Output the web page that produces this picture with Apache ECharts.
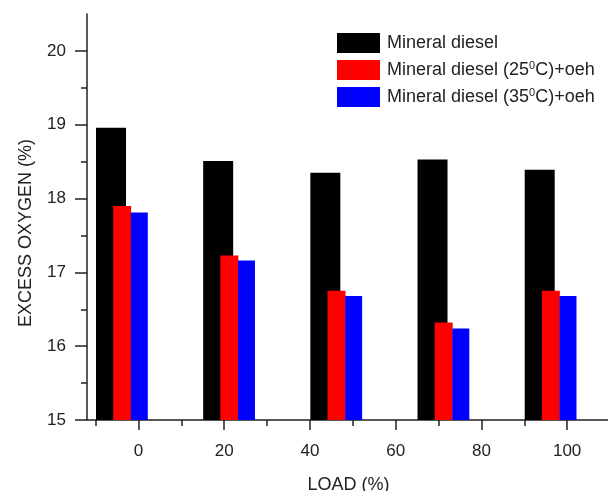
<!DOCTYPE html>
<html>
<head>
<meta charset="utf-8">
<script src="https://cdn.jsdelivr.net/npm/echarts@6/dist/echarts.min.js"></script>
<style>
  html, body { margin: 0; padding: 0; background: #fff; }
  #chart { width: 608px; height: 491px; }
</style>
</head>
<body>
<div id="chart"></div>
<script>
// x positions of each bar on the LOAD axis
const blackLoad = [-6.4, 18.6, 43.6, 68.6, 93.6]
const redLoad = [-3.8, 21.2, 46.2, 71.2, 96.2]
const blueLoad = [0.2, 25.2, 50.2, 75.2, 100.2]

// excess oxygen (%)
const mineralDiesel = [18.96, 18.51, 18.35, 18.53, 18.39]
const diesel25 = [17.90, 17.23, 16.75, 16.32, 16.75]
const diesel35 = [17.81, 17.16, 16.68, 16.24, 16.68]

const seriesNames = ['Mineral diesel', 'Mineral diesel (25°C)+oeh', 'Mineral diesel (35°C)+oeh']

const xMajorTicks = [0, 20, 40, 60, 80, 100]
const xMinorTicks = [-10, 10, 30, 50, 70, 90]
const yMajorTicks = [15, 16, 17, 18, 19, 20]
const yMinorTicks = [15.5, 16.5, 17.5, 18.5, 19.5]

const FONT = 'Liberation Sans'
const INK = '#222'

const chart = echarts.init(document.getElementById('chart'))

const pairs = (xs, ys) => xs.map((x, i) => [x, ys[i]])

const hiddenX = {
  type: 'value', min: -12, max: 110, position: 'bottom',
  axisLine: { show: false, onZero: false }, axisTick: { show: false },
  axisLabel: { show: false }, splitLine: { show: false }
}

chart.setOption({
  animation: false,
  textStyle: { fontFamily: FONT, color: INK },
  grid: { left: 87, right: -2, top: 14, bottom: 71, outerBoundsMode: 'none' },
  legend: {
    orient: 'vertical',
    left: 337,
    top: 33,
    padding: 0,
    itemWidth: 43,
    itemHeight: 20,
    itemGap: 7,
    icon: 'rect',
    data: seriesNames,
    formatter: name => name.replace('°', '{sup|0}'),
    textStyle: {
      fontFamily: FONT, fontSize: 18, color: INK, padding: [0, 0, 0, 2],
      rich: { sup: { fontFamily: FONT, fontSize: 11, color: INK, padding: [0, 0, 9, 0] } }
    }
  },
  xAxis: [
    {
      type: 'value', min: -12, max: 110, position: 'bottom',
      name: 'LOAD (%)', nameLocation: 'middle', nameGap: 56,
      nameTextStyle: { fontFamily: FONT, fontSize: 18, color: INK },
      axisLine: { onZero: false, lineStyle: { color: INK, width: 1.5 } },
      axisTick: { customValues: xMajorTicks, length: 10, lineStyle: { color: INK, width: 1.5 } },
      axisLabel: { customValues: xMajorTicks, margin: 23, fontSize: 17, color: INK, fontFamily: FONT },
      splitLine: { show: false }
    },
    {
      ...hiddenX,
      axisTick: { show: true, customValues: xMinorTicks, length: 6, lineStyle: { color: INK, width: 1.5 } }
    },
    hiddenX
  ],
  yAxis: [
    {
      type: 'value', min: 15, max: 20.5, position: 'left',
      name: 'EXCESS OXYGEN (%)', nameLocation: 'middle', nameGap: 52,
      nameTextStyle: { fontFamily: FONT, fontSize: 18, color: INK, padding: [0, 32, 0, 0] },
      axisLine: { show: true, onZero: false, lineStyle: { color: INK, width: 1.5 } },
      axisTick: { show: true, customValues: yMajorTicks, length: 12, lineStyle: { color: INK, width: 1.5 } },
      axisLabel: { customValues: yMajorTicks, margin: 21, fontSize: 17, color: INK, fontFamily: FONT },
      splitLine: { show: false }
    },
    {
      type: 'value', min: 15, max: 20.5, position: 'left',
      axisLine: { show: false, onZero: false },
      axisTick: { show: true, customValues: yMinorTicks, length: 6, lineStyle: { color: INK, width: 1.5 } },
      axisLabel: { show: false },
      splitLine: { show: false }
    }
  ],
  series: [
    {
      name: seriesNames[0], type: 'bar', xAxisIndex: 0, yAxisIndex: 0,
      barWidth: 30, itemStyle: { color: '#000000' },
      data: pairs(blackLoad, mineralDiesel)
    },
    {
      name: seriesNames[1], type: 'bar', xAxisIndex: 1, yAxisIndex: 0,
      barWidth: 18, itemStyle: { color: '#ff0000' },
      data: pairs(redLoad, diesel25)
    },
    {
      name: seriesNames[2], type: 'bar', xAxisIndex: 2, yAxisIndex: 0,
      barWidth: 17, itemStyle: { color: '#0000ff' },
      data: pairs(blueLoad, diesel35)
    }
  ]
})
</script>
</body>
</html>
